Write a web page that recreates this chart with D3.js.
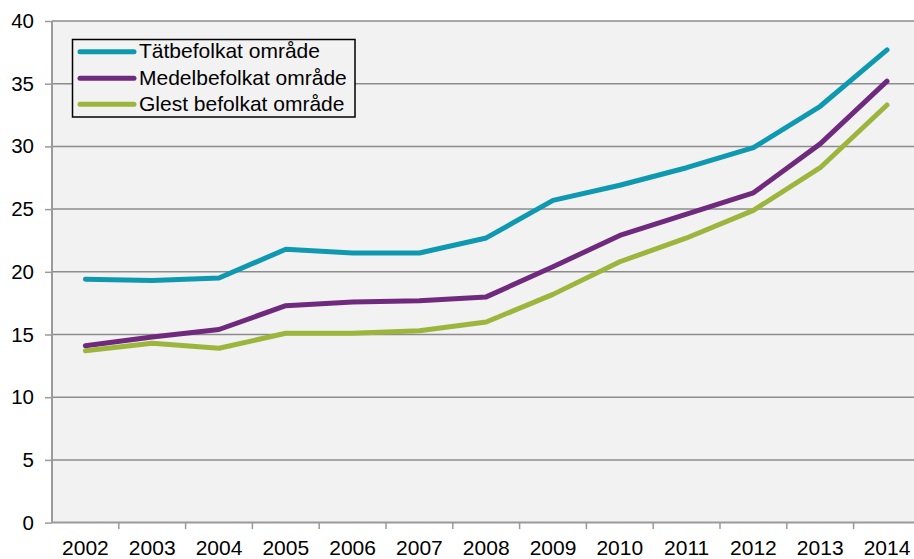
<!DOCTYPE html>
<html>
<head>
<meta charset="utf-8">
<script src="https://cdn.jsdelivr.net/npm/d3@7/dist/d3.min.js"></script>
<style>
html,body{margin:0;padding:0;background:#fff;}
svg{display:block;font-family:"Liberation Sans",Arial,sans-serif;}
</style>
</head>
<body>
<svg id="chart" width="914" height="559"></svg>
<script>
const years = ["2002","2003","2004","2005","2006","2007","2008","2009","2010","2011","2012","2013","2014"];
const seriesNames = ["Tätbefolkat område","Medelbefolkat område","Glest befolkat område"];
const tatValues   = [19.4,19.3,19.5,21.8,21.5,21.5,22.7,25.7,26.9,28.3,29.9,33.2,37.7];
const medelValues = [14.1,14.8,15.4,17.3,17.6,17.7,18.0,20.4,22.9,24.6,26.3,30.2,35.2];
const glestValues = [13.7,14.3,13.9,15.1,15.1,15.3,16.0,18.2,20.8,22.7,24.9,28.3,33.3];
const yTicks = [0,5,10,15,20,25,30,35,40];
const colors = ["#0f99b0","#702a7d","#9cb53c"];

const svg = d3.select("#chart");
const pLeft = 52, pRight = 920.4, pTop = 21, pBottom = 522.6, W = 914;

const x = d3.scaleBand().domain(years).range([pLeft, pRight]).paddingInner(0).paddingOuter(0);
const y = d3.scaleLinear().domain([0,40]).range([pBottom, pTop]);

// plot background
svg.append("rect").attr("x", pLeft).attr("y", pTop).attr("width", W - pLeft).attr("height", pBottom - pTop).attr("fill", "#f2f2f2");

// gridlines
svg.append("g").selectAll("line").data(yTicks.filter(d => d > 0)).join("line")
  .attr("x1", pLeft).attr("x2", W).attr("y1", d => y(d)).attr("y2", d => y(d))
  .attr("stroke", "#8c8c8c").attr("stroke-width", 1.5);

// y axis
const yAxis = svg.append("g").attr("transform", `translate(${pLeft},0)`)
  .call(d3.axisLeft(y).tickValues(yTicks).tickSize(7).tickPadding(11).tickFormat(d3.format("d")));
yAxis.select(".domain").attr("stroke", "#9a9a9a").attr("stroke-width", 2).attr("d", `M0,${pTop}V${pBottom}`);
yAxis.selectAll(".tick line").attr("stroke", "#9a9a9a").attr("stroke-width", 1.5);
yAxis.selectAll(".tick text").attr("font-size", 20.5).attr("fill", "#000").attr("font-family", "Liberation Sans, Arial, sans-serif");

// x axis
const xAxis = svg.append("g").attr("transform", `translate(0,${pBottom})`)
  .call(d3.axisBottom(x).tickSize(0).tickPadding(32.5));
xAxis.select(".domain").attr("stroke", "#9a9a9a").attr("stroke-width", 2).attr("d", `M${pLeft},0H${W}`);
xAxis.selectAll(".tick text").attr("font-size", 21).attr("fill", "#000").attr("font-family", "Liberation Sans, Arial, sans-serif").attr("dy", "0");
// category boundary ticks
svg.append("g").selectAll("line").data(years.slice(1)).join("line")
  .attr("x1", d => x(d)).attr("x2", d => x(d)).attr("y1", pBottom).attr("y2", pBottom + 6.5)
  .attr("stroke", "#9a9a9a").attr("stroke-width", 1.5);

// lines
const allSeries = [tatValues, medelValues, glestValues];
const line = d3.line().x((d,i) => x(years[i]) + x.bandwidth()/2).y(d => y(d));
svg.append("g").selectAll("path").data(allSeries).join("path")
  .attr("d", d => line(d)).attr("fill", "none")
  .attr("stroke", (d,i) => colors[i]).attr("stroke-width", 5)
  .attr("stroke-linejoin", "round").attr("stroke-linecap", "round");

// legend
const lg = svg.append("g");
lg.append("rect").attr("x", 72.5).attr("y", 39.5).attr("width", 282.5).attr("height", 77.5)
  .attr("fill", "#f2f2f2").attr("stroke", "#000").attr("stroke-width", 1.5);
const rowY = [51.7, 78.3, 104.3];
seriesNames.forEach((name, i) => {
  lg.append("line").attr("x1", 80).attr("x2", 134).attr("y1", rowY[i]).attr("y2", rowY[i])
    .attr("stroke", colors[i]).attr("stroke-width", 5).attr("stroke-linecap", "round");
  lg.append("text").attr("x", 139).attr("y", rowY[i] + 6.5).attr("font-size", 21).attr("fill", "#000").text(name);
});
</script>
</body>
</html>
